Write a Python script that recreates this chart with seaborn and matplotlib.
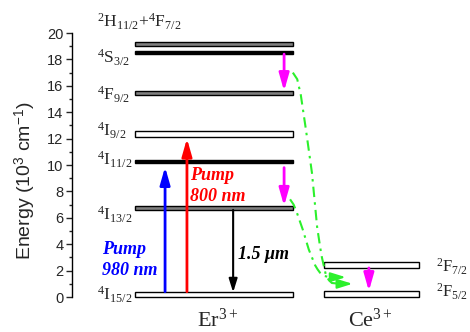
import matplotlib
matplotlib.use('Agg')
import matplotlib.pyplot as plt
import seaborn as sns
import pandas as pd

# energy levels (10^3 cm^-1): bottom and top edge of each level bar
er_levels = ['4I15/2', '4I13/2', '4I11/2', '4I9/2', '4F9/2', '4S3/2', '2H11/2+4F7/2']
er_low = [0.0, 6.6, 10.15, 12.1, 15.3, 18.4, 19.05]
er_high = [0.4, 6.9, 10.35, 12.6, 15.6, 18.6, 19.35]
er_fill = ['white', 'grey', 'black', 'white', 'grey', 'black', 'grey']
er_labels = [r'$^{4}$I$_{15/2}$', r'$^{4}$I$_{13/2}$', r'$^{4}$I$_{11/2}$', r'$^{4}$I$_{9/2}$',
             r'$^{4}$F$_{9/2}$', r'$^{4}$S$_{3/2}$', r'$^{2}$H$_{11/2}$+$^{4}$F$_{7/2}$']
er_label_y = [-0.25, 5.8, 10.0, 12.2, 14.9, 17.7, 20.4]

ce_low = [0.0, 2.2]
ce_high = [0.45, 2.65]
ce_labels = [r'$^{2}$F$_{5/2}$', r'$^{2}$F$_{7/2}$']
ce_label_y = [0.0, 1.9]

# transitions: x position, start energy, end energy
pump980 = (23.4, 0.4, 9.85)
pump800 = (28.9, 0.4, 12.0)
emis15 = (40.5, 6.6, 0.35)
relax_er = [(53.3, 18.4, 15.6), (53.3, 9.8, 6.9)]
relax_ce = (74.6, 2.2, 0.45)

# energy transfer Er -> Ce
et1_x = [55.5, 56.6, 57.5, 58.8, 60.3, 61.6, 62.4, 62.8, 63.4, 63.8, 64.5, 65.3, 67.5]
et1_y = [17.0, 16.5, 15.3, 12.65, 9.4, 5.3, 3.7, 3.0, 2.2, 1.67, 1.3, 1.06, 1.0]
et2_x = [54.8, 55.7, 56.5, 58.0, 59.5, 61.1, 61.7, 62.3, 63.3, 64.8, 65.8]
et2_y = [7.4, 7.0, 6.4, 5.1, 3.6, 2.4, 2.1, 1.85, 1.6, 1.5, 1.5]

sns.set_theme(style='ticks')
plt.rcParams['font.family'] = ['Liberation Sans', 'DejaVu Sans']
plt.rcParams['mathtext.fontset'] = 'custom'
plt.rcParams['mathtext.rm'] = 'Liberation Serif'
plt.rcParams['mathtext.it'] = 'Liberation Serif:italic'
plt.rcParams['mathtext.sf'] = 'Liberation Sans'

fig = plt.figure(figsize=(4.7, 3.32), dpi=100)
ax = fig.add_axes([0.153, 0.1054, 0.847, 0.7952])

# level bars
er_df = pd.DataFrame({'low': er_low, 'high': er_high, 'fill': er_fill})
ax.barh(y=(er_df['low'] + er_df['high']) / 2, width=39.7, left=15.8,
        height=er_df['high'] - er_df['low'], color=er_df['fill'],
        edgecolor='black', linewidth=1.0, clip_on=False, zorder=2)
ax.barh(y=[(a + b) / 2 for a, b in zip(ce_low, ce_high)], width=23.9, left=63.3,
        height=[b - a for a, b in zip(ce_low, ce_high)], color='white',
        edgecolor='black', linewidth=1.0, clip_on=False, zorder=2)

serif = ['Liberation Serif', 'DejaVu Serif']
for lab, y in zip(er_labels, er_label_y):
    ax.text(6.3, y, lab, ha='left', va='baseline', fontsize=12.5, family=serif, clip_on=False)
for lab, y in zip(ce_labels, ce_label_y):
    ax.text(91.5, y, lab, ha='left', va='baseline', fontsize=12, family=serif, clip_on=False)

ax.text(36.7, -1.75, r'Er$^{3+}$', ha='center', va='center', fontsize=16, family=serif)
ax.text(74.9, -1.75, r'Ce$^{3+}$', ha='center', va='center', fontsize=16, family=serif)


def arrow(t, color, lw=2.0, hl=1.05, hw=0.3, ms=10):
    x, y0, y1 = t
    ax.annotate('', xy=(x, y1), xytext=(x, y0), annotation_clip=False,
                arrowprops=dict(arrowstyle=f'-|>,head_length={hl},head_width={hw}',
                                color=color, lw=lw, mutation_scale=ms,
                                shrinkA=0, shrinkB=0), zorder=3)


arrow(pump980, '#0000ff')
arrow(pump800, '#ff0000')
arrow(emis15, 'black', lw=1.5, hl=0.8, hw=0.25)
for t in relax_er:
    arrow(t, '#ff00ff')
arrow(relax_ce, '#ff00ff')

green = '#2cf02c'
for xs, ys in [(et1_x, et1_y), (et2_x, et2_y)]:
    sns.lineplot(x=xs, y=ys, sort=False, color=green, lw=1.5, ax=ax)
    ax.lines[-1].set_dashes((5, 2.5, 1.2, 2.5))
    ax.annotate('', xy=(xs[-1] + 3.0, ys[-1]), xytext=(xs[-1], ys[-1]),
                arrowprops=dict(arrowstyle='-|>,head_length=0.9,head_width=0.28',
                                color=green, lw=1.5, mutation_scale=10,
                                shrinkA=0, shrinkB=0))

bold_it = dict(family=serif, fontweight='bold', fontstyle='italic', fontsize=13)
ax.text(7.5, 2.8, 'Pump\n980 nm', color='#0000ff', ha='left', va='center',
        linespacing=1.25, **bold_it)
ax.text(29.6, 8.4, 'Pump\n800 nm', color='#ff0000', ha='left', va='center',
        linespacing=1.25, **bold_it)
ax.text(41.7, 3.25, '1.5 \u03bcm', color='black', ha='left', va='center', **bold_it)

ax.set_xlim(0, 100)
ax.set_ylim(0, 20)
ax.set_yticks(range(0, 21, 2))
ax.set_yticks(range(1, 20, 2), minor=True)
ax.tick_params(axis='y', which='major', length=4, width=1, labelsize=10.5, pad=2)
ax.tick_params(axis='y', which='minor', length=2.5, width=1)
ax.set_xticks([])
for s in ['top', 'right', 'bottom']:
    ax.spines[s].set_visible(False)
ax.spines['left'].set_linewidth(1)
ax.spines['left'].set_color('black')
ax.set_facecolor('none')
ax.set_ylabel(r'Energy (10$^{\mathsf{3}}$ cm$^{\mathsf{-1}}$)', fontsize=14)
ax.yaxis.set_label_coords(-0.085, 0.44)

fig.savefig('out.png', dpi=100)
